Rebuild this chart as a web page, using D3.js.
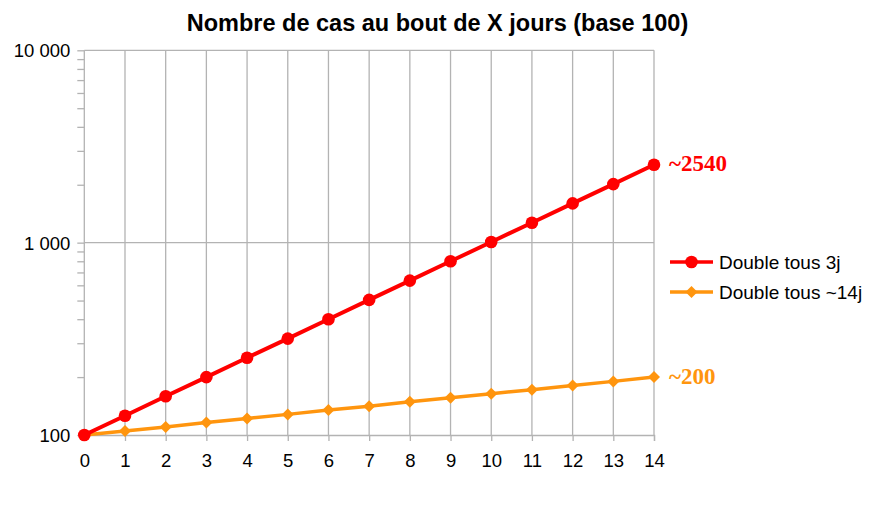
<!DOCTYPE html>
<html><head><meta charset="utf-8">
<script src="https://cdn.jsdelivr.net/npm/d3@7"></script>
<style>body{margin:0;background:#fff}svg{display:block}</style>
</head><body><svg id="c" width="876" height="508"></svg>
<script>
const days = [0,1,2,3,4,5,6,7,8,9,10,11,12,13,14];
const serie3j = [100,126,159,200,252,317,400,504,635,800,1008,1270,1600,2016,2540];
const serie14j = [100,105,110,116,122,128,135,141,149,156,164,172,181,190,200];
const seriesNames = ["Double tous 3j","Double tous ~14j"];
const endLabels = ["~2540","~200"];
const yTicks = [100,1000,10000];
const yMinor = [200,300,400,500,600,700,800,900,2000,3000,4000,5000,6000,7000,8000,9000];
const title = "Nombre de cas au bout de X jours (base 100)";

const svg = d3.select("#c");
const L=84.3, R=654, T=50.3, B=435;
const x = d3.scaleLinear().domain([0,14]).range([L,R]);
const y = d3.scaleLog().domain([100,10000]).range([B,T]);
const grid="#b3b3b3";
const font="'Liberation Sans', Arial, sans-serif";
const red="#ff0000", orange="#ff950e";

svg.append("text").attr("x",437.5).attr("y",31).attr("text-anchor","middle")
  .attr("font-family",font).attr("font-weight","bold").attr("font-size",23.5).text(title);

// gridlines
svg.append("g").selectAll("line").data(yTicks.slice(1)).join("line")
  .attr("x1",L).attr("x2",R).attr("y1",d=>y(d)).attr("y2",d=>y(d)).attr("stroke",grid).attr("stroke-width",1.3);
svg.append("g").selectAll("line").data(days.slice(1)).join("line")
  .attr("x1",d=>x(d)).attr("x2",d=>x(d)).attr("y1",T).attr("y2",B).attr("stroke",grid).attr("stroke-width",1.3);

// y axis
const yAxis = d3.axisLeft(y).tickValues(yTicks).tickSize(7).tickPadding(7)
  .tickFormat(d=>d3.format(",")(d).replace(/,/g," "));
const gy = svg.append("g").attr("transform",`translate(${L},0)`).call(yAxis);
gy.select(".domain").remove();
gy.selectAll(".tick line").attr("stroke",grid).attr("stroke-width",1.3);
gy.selectAll(".tick text").attr("font-family",font).attr("font-size",18.5).attr("fill","#000").attr("dy","0.35em");
const gym = svg.append("g").attr("transform",`translate(${L},0)`).call(d3.axisLeft(y).tickValues(yMinor).tickSize(7).tickFormat(""));
gym.select(".domain").remove();
gym.selectAll(".tick line").attr("stroke",grid).attr("stroke-width",1.3);
svg.append("line").attr("x1",L).attr("x2",L).attr("y1",T).attr("y2",B).attr("stroke",grid).attr("stroke-width",1.3);

// x axis
const gx = svg.append("g").attr("transform",`translate(0,${B})`)
  .call(d3.axisBottom(x).tickValues(days).tickSize(6).tickPadding(13).tickFormat(d3.format("d")));
gx.select(".domain").attr("stroke",grid).attr("stroke-width",1.3);
gx.selectAll(".tick line").attr("stroke",grid).attr("stroke-width",1.3);
gx.selectAll(".tick text").attr("font-family",font).attr("font-size",18.5).attr("fill","#000").attr("dy","0.72em");

const line = d3.line().x((d,i)=>x(days[i])).y(d=>y(d));
const diamond = s => `M0,${-s}L${s},0L0,${s}L${-s},0Z`;

svg.append("path").datum(serie14j).attr("d",line).attr("fill","none").attr("stroke",orange).attr("stroke-width",3.5);
svg.append("g").selectAll("path").data(serie14j).join("path")
  .attr("d",diamond(6)).attr("transform",(d,i)=>`translate(${x(days[i])},${y(d)})`).attr("fill",orange);
svg.append("path").datum(serie3j).attr("d",line).attr("fill","none").attr("stroke",red).attr("stroke-width",4);
svg.append("g").selectAll("circle").data(serie3j).join("circle")
  .attr("cx",(d,i)=>x(days[i])).attr("cy",d=>y(d)).attr("r",6.3).attr("fill",red);

// end labels
const lastVals=[serie3j[serie3j.length-1], serie14j[serie14j.length-1]];
[red,orange].forEach((c,k)=>{
  svg.append("text").attr("x",669).attr("y",y(lastVals[k])-1.5).attr("dy","0.35em")
    .attr("font-family","'Liberation Serif','Times New Roman',serif").attr("font-weight","bold")
    .attr("font-size",23).attr("fill",c).text(endLabels[k]);
});

// legend
const lg = svg.append("g");
[[red,"circle"],[orange,"diamond"]].forEach(([c,m],k)=>{
  const yy = 262 + k*30;
  lg.append("line").attr("x1",670).attr("x2",713).attr("y1",yy).attr("y2",yy).attr("stroke",c).attr("stroke-width",3.5);
  if(m==="circle") lg.append("circle").attr("cx",691.5).attr("cy",yy).attr("r",6.3).attr("fill",c);
  else lg.append("path").attr("d",diamond(6)).attr("transform",`translate(691.5,${yy})`).attr("fill",c);
  lg.append("text").attr("x",719).attr("y",yy).attr("dy","0.35em").attr("font-family",font)
    .attr("font-size",19).attr("fill","#000").text(seriesNames[k]);
});
</script></body></html>
